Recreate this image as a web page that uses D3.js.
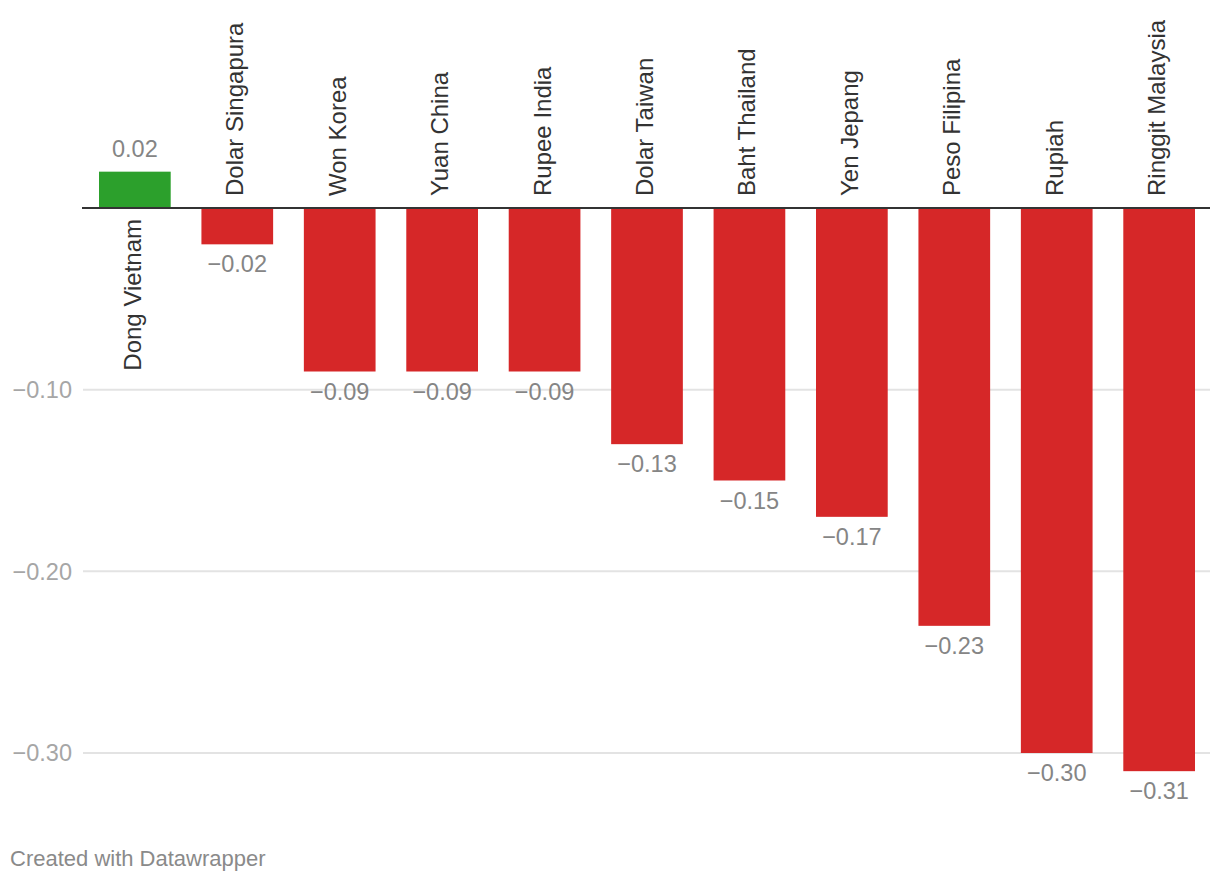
<!DOCTYPE html>
<html><head><meta charset="utf-8">
<script src="https://cdn.jsdelivr.net/npm/d3@7"></script>
<style>body{margin:0;background:#fff;} text{font-family:"Liberation Sans",Arial,Helvetica,sans-serif;}</style>
</head><body>
<svg id="c" width="1220" height="884"></svg>
<script>
const categories = ["Dong Vietnam","Dolar Singapura","Won Korea","Yuan China","Rupee India","Dolar Taiwan","Baht Thailand","Yen Jepang","Peso Filipina","Rupiah","Ringgit Malaysia"];
const values = [0.02,-0.02,-0.09,-0.09,-0.09,-0.13,-0.15,-0.17,-0.23,-0.30,-0.31];
const yTicks = [-0.10,-0.20,-0.30];

const svg = d3.select("#c");
const x = d3.scaleBand().domain(categories).range([99,1195]).paddingInner(0.3).paddingOuter(0);
const y = d3.scaleLinear().domain([0,-0.3]).range([208,753]);
const fmt = v => (v<0?"\u2212":"") + Math.abs(v).toFixed(2);

// gridlines
svg.append("g").selectAll("line").data(yTicks).join("line")
  .attr("x1",83).attr("x2",1210).attr("y1",d=>y(d)).attr("y2",d=>y(d))
  .attr("stroke","#e3e3e3").attr("stroke-width",2);
svg.append("g").selectAll("text").data(yTicks).join("text")
  .attr("x",72).attr("y",d=>y(d)).attr("dy","0.35em").attr("text-anchor","end")
  .attr("font-size",23.5).attr("fill","#a6a6a6").text(fmt);

// bars
svg.append("g").selectAll("rect").data(values).join("rect")
  .attr("x",(d,i)=>x(categories[i])).attr("width",x.bandwidth())
  .attr("y",d=>d>0?y(d):y(0)+1).attr("height",d=>Math.abs(y(d)-y(0)) - (d>0?0:1))
  .attr("fill",d=>d>0?"#2ca02c":"#d62728");

// zero line
svg.append("line").attr("x1",82).attr("x2",1210).attr("y1",y(0)).attr("y2",y(0))
  .attr("stroke","#333").attr("stroke-width",2);

// value labels
svg.append("g").selectAll("text").data(values).join("text")
  .attr("x",(d,i)=>x(categories[i])+x.bandwidth()/2)
  .attr("y",d=>d>0?y(d)-15:y(d)+28)
  .attr("text-anchor","middle").attr("font-size",23.5).attr("fill","#858585").text(fmt);

// category labels
svg.append("g").selectAll("text").data(categories).join("text")
  .attr("transform",(d,i)=>{const cx=x(d)+x.bandwidth()/2+6; const cy=values[i]>0?y(0)+11:y(0)-12; return `translate(${cx},${cy}) rotate(-90)`;})
  .attr("text-anchor",(d,i)=>values[i]>0?"end":"start")
  .attr("font-size",24).attr("fill","#333").text(d=>d);

svg.append("text").attr("x",10).attr("y",866).attr("font-size",22).attr("fill","#8a8a8a").text("Created with Datawrapper");
</script>
</body></html>
